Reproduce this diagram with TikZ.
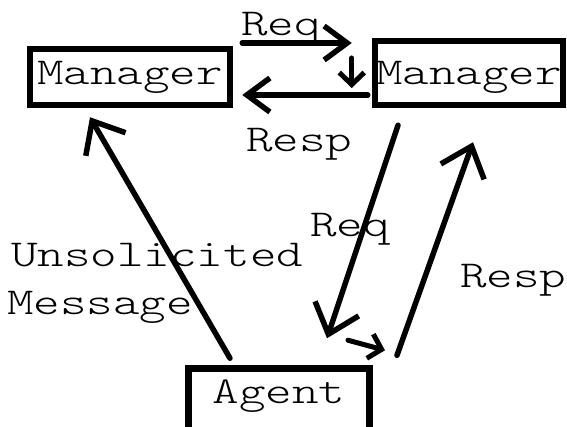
\documentclass[tikz,border=0pt]{standalone}
\usepackage{fontspec}
\setmainfont{lmmonolt10-regular.otf}[FakeStretch=1.33]
\usepackage{tikz}
\usetikzlibrary{arrows.meta,positioning,calc}
\tikzstyle{box}=[draw, line width=6.5pt, inner xsep=0pt, inner ysep=0pt, align=center]
\tikzstyle{flow}=[line width=5.5pt, line cap=round, -{Straight Barb[length=27pt,width=46pt]}]
\tikzstyle{flowmid}=[line width=5.5pt, line cap=round, -{Straight Barb[length=23pt,width=34pt]}]
\tikzstyle{flowsmall}=[line width=5pt, line cap=round, -{Straight Barb[length=12pt,width=25pt]}]
\tikzstyle{lbl}=[anchor=base west, inner sep=0pt]

\begin{document}
\begin{tikzpicture}[x=1pt, y=-1pt, font=\fontsize{38}{48}\selectfont]
\useasboundingbox (0,0) rectangle (567,427);

% boxes
\node[box, minimum width=200pt, text height=36pt, text depth=20pt, anchor=base] (mgrL) at (130,85) {Manager};
\node[box, minimum width=188pt, text height=44pt, text depth=20pt, anchor=base] (mgrR) at (469,85) {Manager};
\node[box, minimum width=181pt, text height=34.5pt, text depth=27.5pt, anchor=base] (agent) at (279,403) {Agent};

% manager to manager
\draw[flowmid] ([shift={(9,-34)}]mgrL.east) -- ([shift={(-20,-30)}]mgrR.west);
\draw[flowsmall] ([shift={(-20,-15)}]mgrR.west) -- ([shift={(-20,15)}]mgrR.west);
\draw[flowmid] ([shift={(-4,22)}]mgrR.west) -- ([shift={(9,18)}]mgrL.east);
\node[lbl] (reqTop) at (241,36) {Req};
\node[lbl] (respTop) at (246,152) {Resp};

% unsolicited
\draw[flow] ([shift={(-49,-7)}]agent.north) -- ([shift={(-40,9)}]mgrL.south);
\node[lbl] (unsol) at (11,267) {Unsolicited};
\node[lbl] (msg) at (7,315) {Message};

% request / response
\draw[flow] ([shift={(-71,17)}]mgrR.south) -- ([shift={(48,-27)}]agent.north);
\draw[flowsmall] ([shift={(69,-25)}]agent.north) -- ([shift={(106,-15)}]agent.north);
\draw[flow] ([shift={(118,-10)}]agent.north) -- ([shift={(4,34)}]mgrR.south);
\node[lbl] (reqDiag) at (310,237) {Req};
\node[lbl] (respRight) at (460,288) {Resp};

\end{tikzpicture}
\end{document}
